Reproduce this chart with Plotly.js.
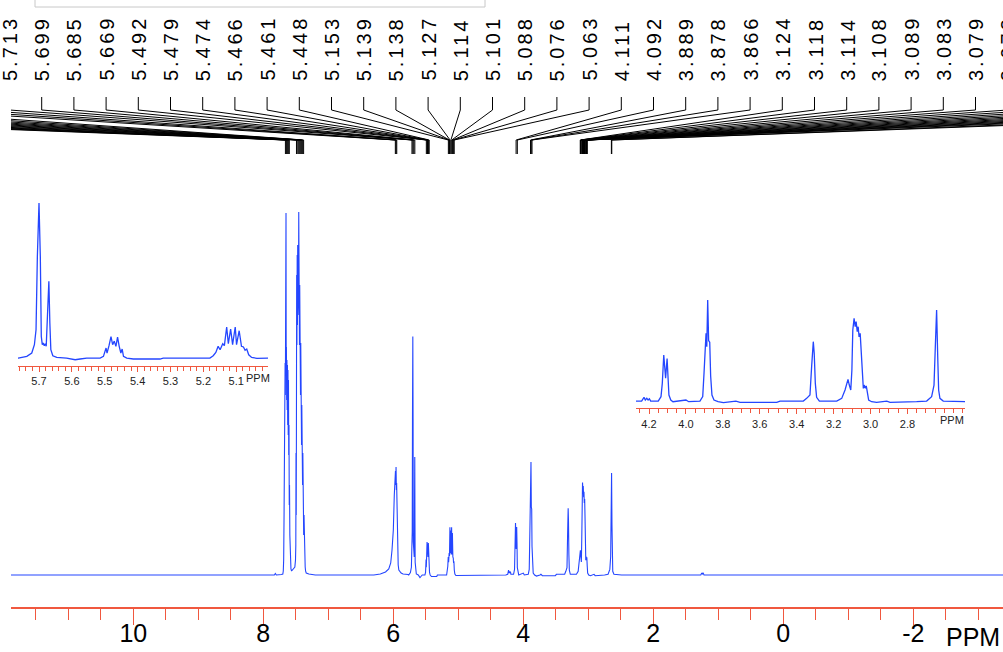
<!DOCTYPE html>
<html><head><meta charset="utf-8">
<script src="https://cdn.plot.ly/plotly-3.0.1.min.js"></script>
<style>html,body{margin:0;padding:0;background:#fff}</style>
</head><body><div id="chart" style="width:1003px;height:652px"></div>
<script>
// ---------- spectrum data (ppm, intensity) ----------
const baseHighPpm = [11.882, 9.0, 8.2, 7.83, 7.815, 7.80, 7.72, 7.70];
const baseHighInt = [0, 0, 0, 0, 1.5, 0, 0.5, 1];

const aromaticPpm = [7.693,7.687,7.681,7.676,7.672,7.669,7.665,7.661,7.657,7.654,7.651,7.648,7.645,7.641,7.637,7.633,7.629,7.625,7.621,7.617,7.613,7.609,7.605,7.601,7.597,7.592,7.587,7.582,7.575,7.565,7.55,7.53,7.515,7.505,
  7.500,7.497,7.494,7.491,7.487,7.483,7.479,7.475,7.471,7.467,7.463,7.459,7.455,7.452,7.448,7.444,7.440,7.436,7.432,7.428,7.424,7.420,7.416,7.412,7.408,7.404,7.400,7.396,7.392,7.388,7.384,7.379,7.374,7.368,7.362,7.356,7.350,7.340,7.30,7.2];
const aromaticInt = [4,15,60,150,205,160,212,180,250,200,362,210,228,175,215,165,210,150,205,140,195,120,150,70,90,40,25,12,6,4,5,6,8,15,
  30,122,60,140,300,230,320,250,330,260,320,280,363,270,300,230,290,210,260,180,232,160,193,130,170,110,140,90,122,70,85,40,60,20,32,8,4,2,1,0];

const olefinAPpm = [6.5,6.30,6.20,6.12,6.07,6.04,6.02,6.00,5.985,5.977,5.972,5.967,5.963,5.958,5.953,5.949,5.944,5.939,5.932,5.925,5.915,5.90,5.88,5.85,5.80,5.775];
const olefinAInt = [0,0,1,3,6,12,25,45,80,95,85,104,90,108,85,92,60,40,20,10,5,3,2,1,1,0.5];

const olefinBPpm = [5.763,5.737,5.722,5.714,5.709,5.705,5.700,5.696,5.693,5.690,5.687,5.684,5.681,5.678,5.675,5.672,5.670,5.667,5.664,5.658,5.646,5.616,5.590,5.575,5.555,5.514,
  5.504,5.496,5.493,5.487,5.481,5.476,5.471,5.466,5.461,5.456,5.451,5.447,5.443,5.433,5.413,5.332,5.322,5.180,
  5.170,5.162,5.155,5.149,5.141,5.136,5.129,5.124,5.117,5.111,5.103,5.099,5.091,5.084,5.078,5.073,5.068,5.062,5.053,5.037,5.002];
const olefinBInt = [0,2.5,7.7,20.5,43.5,156,238.5,156,33,20.5,23,19,22,18,54,115,118,54,12.8,3.5,1,0,-2.6,-1.5,0,0,
  2.5,15.4,7.7,19,33,20.5,26,18,32,18,7.7,13.8,2.5,0,-1.5,-1.5,0,0,
  3.5,8.7,18,12.8,22,19,47.7,22,44.6,20.5,47.7,20.5,42,18,17,12,13.8,5,1,-0.5,-0.5];

const aliphaticPpm = [4.9,4.5,4.270,4.240,4.227,4.220,4.212,4.205,4.198,4.191,4.150,4.135,4.128,4.120,4.115,4.110,4.102,4.097,4.092,4.082,4.070,4.000,3.985,
  3.924,3.909,3.902,3.897,3.891,3.887,3.882,3.877,3.871,3.866,3.859,3.848,3.826,3.797,3.743,3.729,3.707,3.508,3.490,
  3.364,3.346,3.328,3.319,3.310,3.305,3.299,3.292,3.277,3.183,
  3.156,3.138,3.129,3.122,3.115,3.107,3.101,3.096,3.089,3.083,3.078,3.072,3.067,3.062,3.056,3.051,3.045,3.039,3.034,3.028,3.023,3.017,3.010,2.994,2.967,2.912,2.894,
  2.750,2.696,2.669,2.656,2.649,2.642,2.636,2.631,2.624,2.606,2.488];
const aliphaticInt = [0,0,0,0.7,4.9,1.9,3.7,1.9,3.3,0.7,0.7,5.6,20.4,51.9,39,26,48,31.5,7.4,1.9,0,1.9,0,
  0.7,5.6,31.5,63,76,61,113,68,66,28.6,7.4,1.9,0,-1.1,0,0.7,-0.7,-0.7,0.7,
  0.7,3.7,7.4,39,66.7,53.7,20.4,4.9,0.7,0.7,
  3.7,13,18.5,24.8,18.5,13,35,79.6,92.6,83.3,88.9,77.8,83.3,72,75.9,59,35,14.8,18.5,14.8,17.6,9.3,1.9,0,-0.7,0.7,-0.7,
  0,0.7,5.6,18.5,61,101.9,50,13,3.7,0.7,0];

const baseLowPpm = [2.2,1.5,1.27,1.255,1.245,1.235,1.22,0.5,-3.38];
const baseLowInt = [0,0,0,2,1,2.2,0,0,0];

const ppm = [].concat(baseHighPpm, aromaticPpm, olefinAPpm, olefinBPpm, aliphaticPpm, baseLowPpm);
const intensity = [].concat(baseHighInt, aromaticInt, olefinAInt, olefinBInt, aliphaticInt, baseLowInt);

// ---------- tick labels ----------
const mainTickVals = [10, 8, 6, 4, 2, 0, -2];
const mainTickText = ['10', '8', '6', '4', '2', '0', '-2'];
const leftTickVals = [5.7, 5.6, 5.5, 5.4, 5.3, 5.2, 5.1];
const leftTickText = ['5.7', '5.6', '5.5', '5.4', '5.3', '5.2', '5.1'];
const rightTickVals = [4.2, 4.0, 3.8, 3.6, 3.4, 3.2, 3.0, 2.8];
const rightTickText = ['4.2', '4.0', '3.8', '3.6', '3.4', '3.2', '3.0', '2.8'];
const unitLabel = 'PPM';

// ---------- peak pick labels ----------
const peakLabels = ['7.660','7.645','7.630','7.615','7.600','7.490','7.470','7.455','7.440','7.425','7.410','7.395','7.380',
  '5.969','5.958','5.947','5.713',
  '5.699','5.685','5.669','5.492','5.479','5.474','5.466','5.461','5.448','5.153','5.139','5.138','5.127','5.114','5.101',
  '5.088','5.076','5.063','4.111','4.092','3.889','3.878','3.866','3.124','3.118','3.114','3.108','3.089','3.083','3.079',
  '3.073','3.068','3.064','3.060','3.056','3.052','3.047','3.035','3.030','3.026','3.021','3.017','2.645','2.639'];

// ---------- layout helpers ----------
const W = 1003, H = 652;
const py = p => 1 - p / H;
const px = p => p / W;
const RED = '#f0583f';
const BLUE = '#2446ff';
const FONT = 'Liberation Sans, Arial, sans-serif';
const mainRange = [11.882, -3.380];
const mainPx = [11, 1003];
const pxToPpm = p => mainRange[0] + (p - mainPx[0]) / (mainPx[1] - mainPx[0]) * (mainRange[1] - mainRange[0]);

const shapes = [];
const annotations = [];
const firstVisible = peakLabels.indexOf('5.699');
peakLabels.forEach((lab, i) => {
  const xl = 41.7 + 32.2 * (i - firstVisible);
  const xlp = pxToPpm(xl);
  const xp = parseFloat(lab);
  shapes.push({type: 'path', xref: 'x', yref: 'paper',
    path: `M ${xlp},${py(97)} L ${xlp},${py(110)} L ${xp},${py(140)} L ${xp},${py(154)}`,
    line: {color: '#000', width: 1}});
  if (xl > 0 && xl < W + 10) {
    annotations.push({xref: 'paper', yref: 'paper', x: px(xl + 1), y: py(82), xanchor: 'center', yanchor: 'bottom',
      textangle: -90, showarrow: false, borderpad: 0,
      text: `<span style="letter-spacing:3px">${lab}</span>`,
      font: {family: FONT, size: 20, color: '#000'}});
  }
});
// faint box at the very top
shapes.push({type: 'path', xref: 'paper', yref: 'paper',
  path: `M ${px(35)},1.02 L ${px(35)},${py(7)} L ${px(485)},${py(7)} L ${px(485)},1.02`,
  line: {color: '#c8c8c8', width: 1}});

annotations.push({xref: 'paper', yref: 'paper', x: px(973), y: py(637), xanchor: 'center', yanchor: 'middle',
  text: unitLabel, showarrow: false, font: {family: FONT, size: 25, color: '#000'}});
annotations.push({xref: 'paper', yref: 'paper', x: px(245), y: py(378), xanchor: 'left', yanchor: 'middle',
  text: unitLabel, showarrow: false, borderpad: 0, font: {family: FONT, size: 11, color: '#222'}});
annotations.push({xref: 'paper', yref: 'paper', x: px(952), y: py(420), xanchor: 'center', yanchor: 'middle',
  text: unitLabel, showarrow: false, font: {family: FONT, size: 11, color: '#222'}});

const traces = [
  {x: ppm, y: intensity, xaxis: 'x', yaxis: 'y', type: 'scatter', mode: 'lines', line: {color: BLUE, width: 1.1}, hoverinfo: 'skip'},
  {x: ppm, y: intensity, xaxis: 'x2', yaxis: 'y2', type: 'scatter', mode: 'lines', line: {color: BLUE, width: 1.3}, hoverinfo: 'skip'},
  {x: ppm, y: intensity, xaxis: 'x3', yaxis: 'y3', type: 'scatter', mode: 'lines', line: {color: BLUE, width: 1.3}, hoverinfo: 'skip'}
];

const insetAxis = (domain, range, vals, text, minorDtick, anchor) => ({
  domain, range, anchor, tickmode: 'array', tickvals: vals, ticktext: text,
  showline: true, linecolor: RED, linewidth: 1, ticks: 'outside', ticklen: 5, tickcolor: RED, tickwidth: 1,
  minor: {tickmode: 'linear', tick0: 0, dtick: minorDtick, ticks: 'outside', ticklen: 4, tickcolor: RED, tickwidth: 1, showgrid: false},
  showgrid: false, zeroline: false, fixedrange: true,
  tickfont: {family: FONT, size: 11, color: '#222'}
});

const layout = {
  width: W, height: H, margin: {l: 0, r: 0, t: 0, b: 0},
  paper_bgcolor: '#fff', plot_bgcolor: 'rgba(0,0,0,0)', showlegend: false,
  xaxis: {domain: [px(11), 1], range: mainRange, anchor: 'y', tickmode: 'array', tickvals: mainTickVals, ticktext: mainTickText,
    showline: true, linecolor: RED, linewidth: 1.5, ticks: 'outside', ticklen: 16, tickcolor: RED, tickwidth: 1,
    ticklabelstandoff: -13,
    minor: {tickmode: 'linear', tick0: 0, dtick: 0.5, ticks: 'outside', ticklen: 11, tickcolor: RED, tickwidth: 1, showgrid: false},
    showgrid: false, zeroline: false,
    tickfont: {family: FONT, size: 25, color: '#000'}},
  yaxis: {domain: [py(607), py(190)], range: [-32, 385], visible: false, anchor: 'x'},
  xaxis2: insetAxis([px(18), px(268)], [5.7639, 5.0033], leftTickVals, leftTickText, 0.02, 'y2'),
  yaxis2: {domain: [py(365.7), py(195)], range: [-11.8, 250.8], visible: false, anchor: 'x2'},
  xaxis3: insetAxis([px(636), px(965)], [4.2704, 2.4882], rightTickVals, rightTickText, 0.05, 'y3'),
  yaxis3: {domain: [py(408.3), py(290)], range: [-7.33, 124.1], visible: false, anchor: 'x3'},
  shapes, annotations
};

Plotly.newPlot('chart', traces, layout, {staticPlot: true, displayModeBar: false});
</script></body></html>
